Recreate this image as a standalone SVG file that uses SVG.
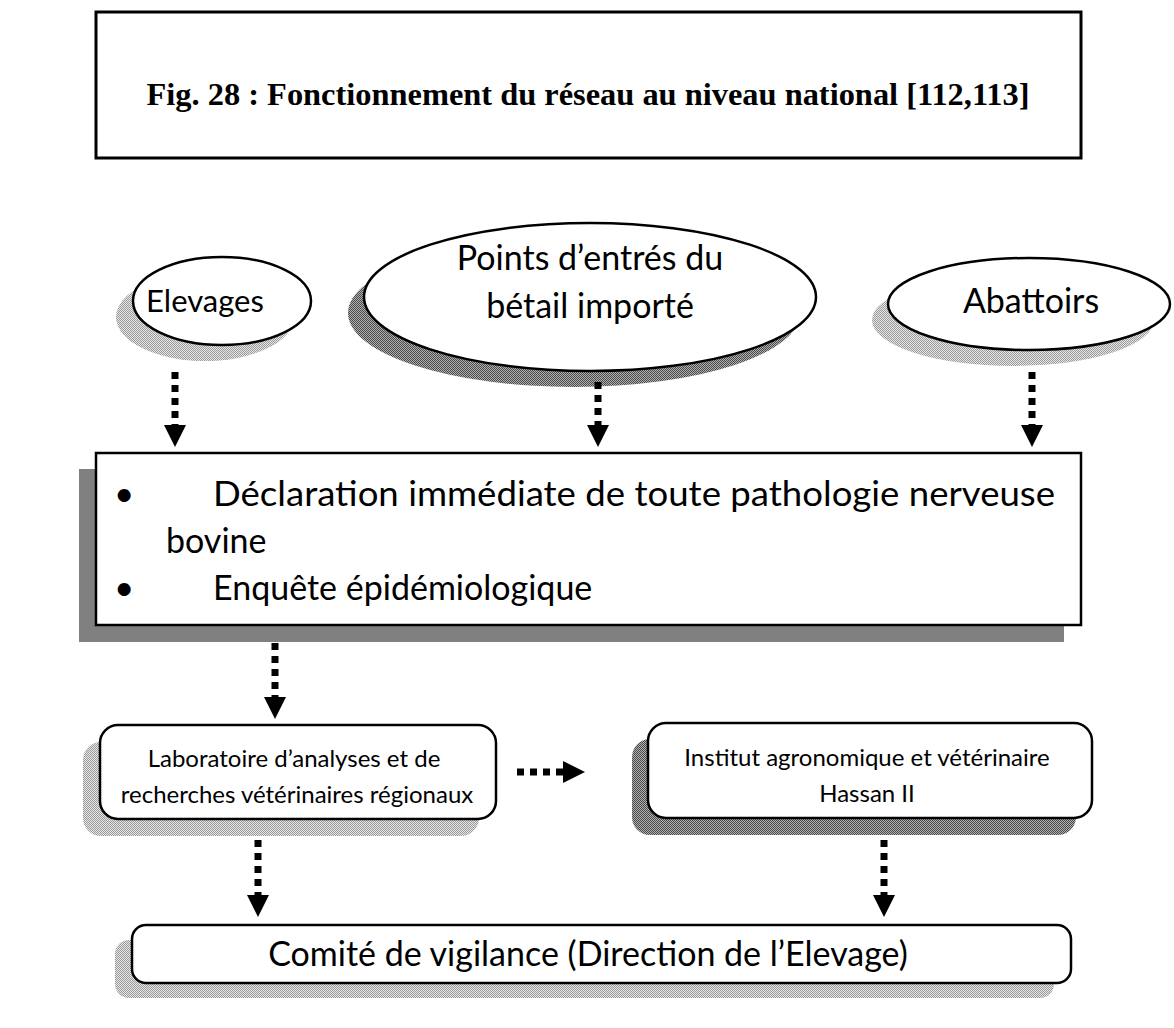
<svg xmlns="http://www.w3.org/2000/svg" width="1174" height="1028" viewBox="0 0 1174 1028">
<defs>
<pattern id="pLight" width="2" height="2" patternUnits="userSpaceOnUse"><rect width="2" height="2" fill="#e6e6e6"/><rect width="1" height="1" fill="#9a9a9a"/><rect x="1" y="1" width="1" height="1" fill="#9a9a9a"/></pattern>
<pattern id="pDark" width="2" height="2" patternUnits="userSpaceOnUse"><rect width="2" height="2" fill="#b0b0b0"/><rect width="1" height="1" fill="#4a4a4a"/><rect x="1" y="1" width="1" height="1" fill="#4a4a4a"/></pattern>
<marker id="ah" markerUnits="userSpaceOnUse" markerWidth="22" markerHeight="22" viewBox="0 0 22 22" refX="0" refY="11" orient="auto"><path d="M0,0 L22,11 L0,22 Z" fill="#000"/></marker>
<style>
.node{fill:#fff;stroke:#000;stroke-width:2.5}
.t{font-family:Lato,"Liberation Sans","Noto Sans",sans-serif;fill:#000}
.title{font-family:"Liberation Serif","Times New Roman",serif;font-weight:bold;fill:#000}
.arr{fill:none;stroke:#000;stroke-width:7;stroke-dasharray:7 6}
</style>
</defs>

<g id="title">
<rect x="96" y="12" width="985" height="146" fill="#fff" stroke="#000" stroke-width="3"/>
<text class="title" x="588" y="105" font-size="32" text-anchor="middle" textLength="883" lengthAdjust="spacingAndGlyphs">Fig. 28 : Fonctionnement du réseau au niveau national [112,113]</text>
</g>

<g id="elevages">
<ellipse cx="205" cy="317" rx="89" ry="44" fill="url(#pLight)"/>
<ellipse class="node" cx="222" cy="301" rx="89" ry="44"/>
<text class="t" x="205" y="312" font-size="31" text-anchor="middle">Elevages</text>
</g>

<g id="points">
<ellipse cx="574" cy="313" rx="226" ry="74" fill="url(#pDark)"/>
<ellipse class="node" cx="590" cy="297" rx="226" ry="74"/>
<text class="t" x="590" y="270" font-size="34" text-anchor="middle">Points d’entrés du</text>
<text class="t" x="590" y="318" font-size="34" text-anchor="middle">bétail importé</text>
</g>

<g id="abattoirs">
<ellipse cx="1013" cy="320" rx="141" ry="46" fill="url(#pLight)"/>
<ellipse class="node" cx="1029" cy="304" rx="141" ry="46"/>
<text class="t" x="1031" y="313" font-size="34" text-anchor="middle">Abattoirs</text>
</g>

<g id="declaration">
<rect x="79" y="469" width="985" height="173" fill="#808080"/>
<rect class="node" x="96" y="453" width="985" height="172"/>
<text class="t" x="114" y="506" font-size="35">•</text>
<text class="t" x="213" y="506" font-size="35" textLength="842" lengthAdjust="spacingAndGlyphs">Déclaration immédiate de toute pathologie nerveuse</text>
<text class="t" x="166" y="553" font-size="34">bovine</text>
<text class="t" x="114" y="600" font-size="35">•</text>
<text class="t" x="213" y="600" font-size="34">Enquête épidémiologique</text>
</g>

<g id="laboratoire">
<rect x="83" y="742" width="396" height="94" rx="18" fill="url(#pLight)"/>
<rect class="node" x="100" y="725" width="396" height="94" rx="18"/>
<text class="t" x="294" y="767" font-size="24" text-anchor="middle">Laboratoire d’analyses et de</text>
<text class="t" x="297" y="803" font-size="24" text-anchor="middle">recherches vétérinaires régionaux</text>
</g>

<g id="institut">
<rect x="632" y="739" width="444" height="96" rx="18" fill="url(#pDark)"/>
<rect class="node" x="648" y="723" width="444" height="95" rx="18"/>
<text class="t" x="867" y="766" font-size="24" text-anchor="middle">Institut agronomique et vétérinaire</text>
<text class="t" x="867" y="802" font-size="24" text-anchor="middle">Hassan II</text>
</g>

<g id="comite">
<rect x="115" y="940" width="939" height="58" rx="14" fill="url(#pLight)"/>
<rect class="node" x="132" y="925" width="939" height="58" rx="14"/>
<text class="t" x="588" y="966" font-size="34" text-anchor="middle">Comité de vigilance (Direction de l’Elevage)</text>
</g>

<g id="connectors">
<path class="arr" d="M175,372 V425" marker-end="url(#ah)"/>
<path class="arr" d="M598,382 V425" marker-end="url(#ah)"/>
<path class="arr" d="M1032,372 V425" marker-end="url(#ah)"/>
<path class="arr" d="M275,643 V697" marker-end="url(#ah)"/>
<path class="arr" d="M517,772 H563" marker-end="url(#ah)"/>
<path class="arr" d="M258,840 V895" marker-end="url(#ah)"/>
<path class="arr" d="M884,840 V895" marker-end="url(#ah)"/>
</g>
</svg>
